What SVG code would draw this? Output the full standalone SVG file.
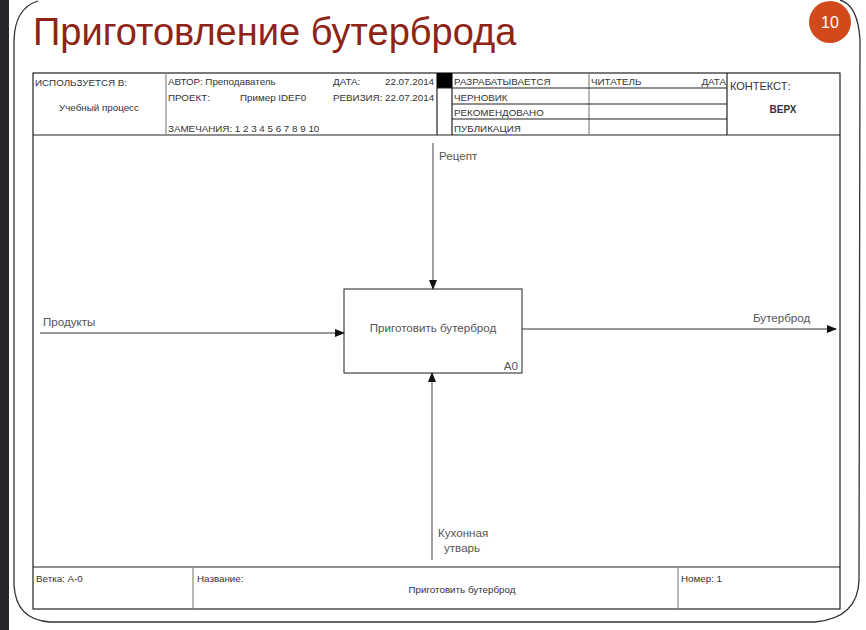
<svg xmlns="http://www.w3.org/2000/svg" width="866" height="630" viewBox="0 0 866 630">
<defs>
<style>
.t{font-family:"Liberation Sans",Arial,sans-serif;fill:#333}
.s{font-size:9.8px}
.m{font-size:11.6px;fill:#555}
.f{stroke:#222;stroke-width:1.2;fill:none}
.g{stroke:#888;stroke-width:1.2;fill:none}
.a{stroke:#333;stroke-width:1.2;fill:none}
.av{stroke:#777;stroke-width:1.4;fill:none}
</style>
<marker id="ah" markerWidth="10" markerHeight="8" refX="9" refY="4" orient="auto" markerUnits="userSpaceOnUse">
<path d="M0,0 L10,4 L0,8 Z" fill="#111"/>
</marker>
</defs>
<rect x="0" y="0" width="866" height="630" fill="#fff"/>
<rect x="0" y="0" width="9" height="630" fill="#26262a"/>
<path d="M38,1 Q15,8 14,40 L14,585 Q16,620 50,622 L815,622 Q858,618 859,580 L860,40 Q858,5 840,0" fill="none" stroke="#333" stroke-width="1.3"/>
<text x="33" y="45" font-family="'Liberation Sans',Arial,sans-serif" font-size="38" fill="#8e2416">Приготовление бутерброда</text>
<g id="badge">
<circle cx="830" cy="22" r="21" fill="#d24a1c"/>
<text x="830" y="28" text-anchor="middle" font-family="'Liberation Sans',Arial,sans-serif" font-size="16" fill="#fff">10</text>
</g>
<g id="frame">
<rect x="33" y="73" width="807" height="536" class="f"/>
<line x1="33" y1="135" x2="840" y2="135" class="f"/>
<line x1="166" y1="73" x2="166" y2="135" class="g"/>
<line x1="437" y1="73" x2="437" y2="135" class="f"/>
<line x1="452" y1="73" x2="452" y2="135" class="f"/>
<line x1="589" y1="73" x2="589" y2="135" class="g"/>
<line x1="727" y1="73" x2="727" y2="135" class="f"/>
<rect x="437" y="73" width="15" height="15" fill="#000"/>
<line x1="437" y1="88" x2="727" y2="88" class="f"/>
<line x1="452" y1="104" x2="727" y2="104" class="f"/>
<line x1="452" y1="119" x2="727" y2="119" class="f"/>
<text class="t s" x="35" y="86">ИСПОЛЬЗУЕТСЯ В:</text>
<text class="t s" x="59" y="111">Учебный процесс</text>
<text class="t s" x="168" y="85">АВТОР: Преподаватель</text>
<text class="t s" x="168" y="101">ПРОЕКТ:</text>
<text class="t s" x="240" y="101">Пример IDEF0</text>
<text class="t s" x="168" y="132">ЗАМЕЧАНИЯ:  1 2 3 4 5 6 7 8 9 10</text>
<text class="t s" x="333" y="85">ДАТА:</text>
<text class="t s" x="385" y="85">22.07.2014</text>
<text class="t s" x="333" y="101">РЕВИЗИЯ: 22.07.2014</text>
<text class="t s" x="454" y="85">РАЗРАБАТЫВАЕТСЯ</text>
<text class="t s" x="454" y="101">ЧЕРНОВИК</text>
<text class="t s" x="454" y="116">РЕКОМЕНДОВАНО</text>
<text class="t s" x="454" y="132">ПУБЛИКАЦИЯ</text>
<text class="t s" x="591" y="85">ЧИТАТЕЛЬ</text>
<text class="t s" x="726" y="85" text-anchor="end">ДАТА</text>
<text class="t" x="730" y="90" font-size="11" fill="#555">КОНТЕКСТ:</text>
<text class="t" x="783" y="113" font-size="10" font-weight="bold" text-anchor="middle">ВЕРХ</text>
<line x1="33" y1="567" x2="840" y2="567" class="f"/>
<line x1="193" y1="567" x2="193" y2="609" class="g"/>
<line x1="678" y1="567" x2="678" y2="609" class="g"/>
<text class="t s" x="36" y="582">Ветка:  А-0</text>
<text class="t s" x="197" y="582">Название:</text>
<text class="t s" x="462" y="593" text-anchor="middle">Приготовить бутерброд</text>
<text class="t s" x="681" y="582">Номер:  1</text>
</g>
<g id="A0">
<rect x="344" y="289" width="178" height="84" fill="#fff" stroke="#444" stroke-width="1.2"/>
<text class="t m" x="433" y="332" text-anchor="middle">Приготовить бутерброд</text>
<text class="t m" x="518" y="370" text-anchor="end">A0</text>
</g>
<g id="connectors">
<line x1="433" y1="143" x2="433" y2="289" class="av" marker-end="url(#ah)"/>
<line x1="40" y1="333" x2="344" y2="333" class="a" marker-end="url(#ah)"/>
<line x1="522" y1="329" x2="836" y2="329" class="a" marker-end="url(#ah)"/>
<line x1="432" y1="560" x2="432" y2="373" class="av" marker-end="url(#ah)"/>
<text class="t m" x="439" y="160">Рецепт</text>
<text class="t m" x="43" y="326">Продукты</text>
<text class="t m" x="753" y="322">Бутерброд</text>
<text class="t m" x="438" y="537">Кухонная</text>
<text class="t m" x="444" y="552">утварь</text>
</g>
</svg>
